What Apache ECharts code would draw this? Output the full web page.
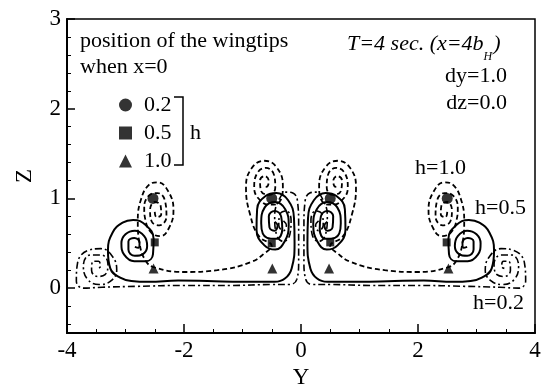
<!DOCTYPE html>
<html><head><meta charset="utf-8">
<script src="https://cdn.jsdelivr.net/npm/echarts@6/dist/echarts.min.js"></script>
<style>html,body{margin:0;padding:0;background:#fff}#c{width:549px;height:384px}</style>
</head><body><div id="c"></div>
<script>
// ---- tick values ----
const xMajor = [-4, -2, 0, 2, 4];
const xMinor = [-3.5, -3, -2.5, -1.5, -1, -0.5, 0.5, 1, 1.5, 2.5, 3, 3.5];
const zMajor = [0, 1, 2, 3];
const zMinor = [-0.4, -0.2, 0.2, 0.4, 0.6, 0.8, 1.2, 1.4, 1.6, 1.8, 2.2, 2.4, 2.6, 2.8];

// ---- wingtip positions at x=0 ----
const tipH02 = [[-2.53, 1.0], [-0.5, 1.0], [0.5, 1.0], [2.5, 1.0]];
const tipH05 = [[-2.5, 0.51], [-0.5, 0.5], [0.5, 0.51], [2.49, 0.51]];
const tipH10 = [[-2.52, 0.22], [-0.49, 0.22], [0.48, 0.22], [2.52, 0.22]];

// ---- h=1.0 (dashed) sheet ----
const dashL = [[-2.5,0.85],[-2.47,0.79],[-2.39,0.82],[-2.4,0.92],[-2.5,0.96],[-2.58,0.87],[-2.55,0.74],[-2.42,0.7],[-2.3,0.8],[-2.32,0.96],[-2.45,1.06],[-2.6,1.03],[-2.68,0.9],[-2.66,0.76],[-2.56,0.62],[-2.4,0.58],[-2.25,0.68],[-2.18,0.87],[-2.27,1.08],[-2.45,1.18],[-2.6,1.15],[-2.73,1.0],[-2.79,0.75],[-2.76,0.5],[-2.65,0.3],[-2.5,0.23],[-2.0,0.18],[-1.43,0.2],[-0.86,0.29],[-0.6,0.4],[-0.5,0.47],[-0.72,0.58],[-0.87,0.82],[-0.94,1.12],[-0.85,1.33],[-0.63,1.42],[-0.42,1.35],[-0.31,1.14],[-0.37,0.96],[-0.52,0.93],[-0.7,0.98],[-0.8,1.12],[-0.75,1.28],[-0.6,1.34],[-0.46,1.26],[-0.44,1.12],[-0.54,1.04],[-0.68,1.08],[-0.7,1.2],[-0.62,1.25],[-0.55,1.19],[-0.59,1.13],[-0.63,1.16]];
const dashR = [[2.5,0.85],[2.47,0.79],[2.39,0.82],[2.4,0.92],[2.5,0.96],[2.58,0.87],[2.55,0.74],[2.42,0.7],[2.3,0.8],[2.32,0.96],[2.45,1.06],[2.6,1.03],[2.68,0.9],[2.66,0.76],[2.56,0.62],[2.4,0.58],[2.25,0.68],[2.18,0.87],[2.27,1.08],[2.45,1.18],[2.6,1.15],[2.73,1.0],[2.79,0.75],[2.76,0.5],[2.65,0.3],[2.5,0.23],[2.0,0.18],[1.43,0.2],[0.86,0.29],[0.6,0.4],[0.5,0.47],[0.72,0.58],[0.87,0.82],[0.94,1.12],[0.85,1.33],[0.63,1.42],[0.42,1.35],[0.31,1.14],[0.37,0.96],[0.52,0.93],[0.7,0.98],[0.8,1.12],[0.75,1.28],[0.6,1.34],[0.46,1.26],[0.44,1.12],[0.54,1.04],[0.68,1.08],[0.7,1.2],[0.62,1.25],[0.55,1.19],[0.59,1.13],[0.63,1.16]];

// ---- h=0.5 (solid) sheet ----
const solidL = [[-0.45,0.74],[-0.4,0.7],[-0.45,0.64],[-0.54,0.68],[-0.55,0.8],[-0.45,0.86],[-0.34,0.8],[-0.32,0.66],[-0.42,0.55],[-0.58,0.56],[-0.68,0.72],[-0.62,0.9],[-0.44,0.96],[-0.27,0.88],[-0.21,0.7],[-0.28,0.52],[-0.44,0.43],[-0.63,0.48],[-0.76,0.65],[-0.75,0.88],[-0.6,1.03],[-0.42,1.06],[-0.22,0.98],[-0.12,0.78],[-0.11,0.5],[-0.16,0.22],[-0.27,0.11],[-0.45,0.07],[-1.0,0.07],[-1.6,0.08],[-2.1,0.085],[-2.6,0.07],[-2.9,0.08],[-3.1,0.12],[-3.26,0.22],[-3.3,0.42],[-3.22,0.62],[-3.05,0.73],[-2.87,0.76],[-2.65,0.7],[-2.52,0.55],[-2.53,0.38],[-2.65,0.3],[-2.85,0.3],[-3.02,0.37],[-3.07,0.5],[-3.0,0.6],[-2.84,0.64],[-2.68,0.58],[-2.63,0.47],[-2.7,0.38],[-2.84,0.36],[-2.95,0.43],[-2.95,0.52],[-2.85,0.56],[-2.76,0.51],[-2.78,0.45],[-2.84,0.46]];
const solidR = [[0.45,0.74],[0.4,0.7],[0.45,0.64],[0.54,0.68],[0.55,0.8],[0.45,0.86],[0.34,0.8],[0.32,0.66],[0.42,0.55],[0.58,0.56],[0.68,0.72],[0.62,0.9],[0.44,0.96],[0.27,0.88],[0.21,0.7],[0.28,0.52],[0.44,0.43],[0.63,0.48],[0.76,0.65],[0.75,0.88],[0.6,1.03],[0.42,1.06],[0.22,0.98],[0.12,0.78],[0.11,0.5],[0.16,0.22],[0.27,0.11],[0.45,0.07],[1.0,0.07],[1.6,0.08],[2.1,0.085],[2.6,0.07],[2.9,0.08],[3.1,0.12],[3.26,0.22],[3.3,0.42],[3.22,0.62],[3.05,0.73],[2.87,0.76],[2.65,0.7],[2.52,0.55],[2.53,0.38],[2.65,0.3],[2.85,0.3],[3.02,0.37],[3.07,0.5],[3.0,0.6],[2.84,0.64],[2.68,0.58],[2.63,0.47],[2.7,0.38],[2.84,0.36],[2.95,0.43],[2.95,0.52],[2.85,0.56],[2.76,0.51],[2.78,0.45],[2.84,0.46]];

// ---- h=0.2 (dash-dot) sheet ----
const ddL = [[-0.3,0.75],[-0.25,0.7],[-0.3,0.64],[-0.38,0.7],[-0.36,0.82],[-0.25,0.86],[-0.17,0.76],[-0.19,0.6],[-0.3,0.52],[-0.42,0.6],[-0.45,0.8],[-0.38,0.98],[-0.25,1.07],[-0.14,1.06],[-0.06,0.97],[-0.04,0.7],[-0.04,0.3],[-0.07,0.1],[-0.2,0.04],[-0.5,0.04],[-1.2,0.03],[-2.0,0.03],[-2.8,0.02],[-3.4,0.01],[-3.72,0.0],[-3.84,0.08],[-3.82,0.28],[-3.64,0.42],[-3.42,0.44],[-3.22,0.35],[-3.15,0.2],[-3.25,0.08],[-3.45,0.04],[-3.65,0.1],[-3.72,0.25],[-3.6,0.37],[-3.42,0.37],[-3.3,0.27],[-3.35,0.15],[-3.48,0.13],[-3.58,0.2],[-3.55,0.3],[-3.46,0.3],[-3.43,0.24],[-3.48,0.22]];
const ddR = [[0.3,0.75],[0.25,0.7],[0.3,0.64],[0.38,0.7],[0.36,0.82],[0.25,0.86],[0.17,0.76],[0.19,0.6],[0.3,0.52],[0.42,0.6],[0.45,0.8],[0.38,0.98],[0.25,1.07],[0.15,1.06],[0.07,0.97],[0.05,0.7],[0.05,0.3],[0.08,0.1],[0.2,0.04],[0.5,0.04],[1.2,0.03],[2.0,0.03],[2.8,0.02],[3.4,0.01],[3.72,0.0],[3.84,0.08],[3.82,0.28],[3.64,0.42],[3.42,0.44],[3.22,0.35],[3.15,0.2],[3.25,0.08],[3.45,0.04],[3.65,0.1],[3.72,0.25],[3.6,0.37],[3.42,0.37],[3.3,0.27],[3.35,0.15],[3.48,0.13],[3.58,0.2],[3.55,0.3],[3.46,0.3],[3.43,0.24],[3.48,0.22]];

const FONT = 'Liberation Serif';
const chart = echarts.init(document.getElementById('c'), null, {renderer: 'canvas'});

function sheet(data, type, width) {
  return {type: 'line', data: data, showSymbol: false, smooth: 0.45, silent: true,
    lineStyle: {color: '#000', width: width, type: type}, z: 2, animation: false};
}
function tips(name, data, symbol, size) {
  return {type: 'scatter', name: name, data: data, symbol: symbol, symbolSize: size,
    itemStyle: {color: '#000'}, z: 5, silent: true, animation: false};
}
function txt(s, x, y, align, extra) {
  return {type: 'text', x: x, y: y, silent: true,
    style: Object.assign({text: s, fontFamily: FONT, fontSize: 22, fill: '#000', align: align || 'left', verticalAlign: 'middle'}, extra || {})};
}

// measure the italic title so that the subscript can follow it
const ctx = document.createElement('canvas').getContext('2d');
ctx.font = 'italic 22px "Liberation Serif"';
const tMain = 'T=4 sec. (x=4b';
const tX = 347;
const wMain = ctx.measureText(tMain).width;
ctx.font = 'italic 12px "Liberation Serif"';
const wSub = ctx.measureText('H').width;

const option = {
  animation: false,
  backgroundColor: '#fff',
  textStyle: {fontFamily: FONT},
  grid: {left: 67, right: 14, top: 19, bottom: 51, outerBoundsMode: 'none', containLabel: false,
         show: true, borderColor: '#000', borderWidth: 1.5, backgroundColor: 'transparent'},
  xAxis: [
    {type: 'value', min: -4, max: 4, position: 'bottom',
     name: 'Y', nameLocation: 'middle', nameGap: 27,
     nameTextStyle: {fontFamily: FONT, fontSize: 23, color: '#000'},
     axisLine: {show: true, onZero: false, lineStyle: {color: '#000', width: 2}},
     axisTick: {show: true, inside: true, length: 9, customValues: xMajor, lineStyle: {color: '#000', width: 1.5}},
     axisLabel: {customValues: xMajor, fontFamily: FONT, fontSize: 23, color: '#000', margin: 6},
     splitLine: {show: false}},
    {type: 'value', min: -4, max: 4, position: 'bottom',
     axisLine: {show: false, onZero: false}, axisLabel: {show: false}, splitLine: {show: false},
     axisTick: {show: true, inside: true, length: 4, customValues: xMinor, lineStyle: {color: '#000', width: 1}}}
  ],
  yAxis: [
    {type: 'value', min: -0.5, max: 3, position: 'left',
     name: 'Z', nameLocation: 'middle', nameGap: 31, nameRotate: 90,
     nameTextStyle: {fontFamily: FONT, fontSize: 23, color: '#000'},
     axisLine: {show: true, onZero: false, lineStyle: {color: '#000', width: 2}},
     axisTick: {show: true, inside: true, length: 8, customValues: zMajor, lineStyle: {color: '#000', width: 1.5}},
     axisLabel: {customValues: zMajor, fontFamily: FONT, fontSize: 23, color: '#000', margin: 6},
     splitLine: {show: false}},
    {type: 'value', min: -0.5, max: 3, position: 'left',
     axisLine: {show: false, onZero: false}, axisLabel: {show: false}, splitLine: {show: false},
     axisTick: {show: true, inside: true, length: 4, customValues: zMinor, lineStyle: {color: '#000', width: 1}}}
  ],
  legend: {
    orient: 'vertical', left: 114, top: 89, itemWidth: 13, itemHeight: 13, itemGap: 6,
    selectedMode: false, data: ['0.2', '0.5', '1.0'],
    textStyle: {fontFamily: FONT, fontSize: 22, color: '#000', padding: [0, 0, 0, 7]}
  },
  series: [
    sheet(dashL, [5, 3], 1.8), sheet(dashR, [5, 3], 1.8),
    sheet(solidL, 'solid', 2), sheet(solidR, 'solid', 2),
    sheet(ddL, [7, 3, 2, 3], 1.6), sheet(ddR, [7, 3, 2, 3], 1.6),
    tips('0.2', tipH02, 'circle', 11),
    tips('0.5', tipH05, 'rect', 8),
    tips('1.0', tipH10, 'triangle', 10)
  ],
  graphic: [
    txt('position of the wingtips', 80, 41),
    txt('when x=0', 80, 67),
    {type: 'polyline', silent: true, shape: {points: [[174, 97], [183, 97], [183, 165], [174, 165]]}, style: {stroke: '#000', lineWidth: 1.5, fill: null}},
    txt('h', 190, 133),
    txt(tMain, tX, 44, 'left', {fontStyle: 'italic'}),
    txt('H', tX + wMain, 57, 'left', {fontStyle: 'italic', fontSize: 12}),
    txt(')', tX + wMain + wSub + 1, 44, 'left', {fontStyle: 'italic'}),
    txt('dy=1.0', 507, 76, 'right'),
    txt('dz=0.0', 507, 103, 'right'),
    txt('h=1.0', 415, 168),
    txt('h=0.5', 475, 208),
    txt('h=0.2', 473, 303)
  ]
};
chart.setOption(option);
</script></body></html>
